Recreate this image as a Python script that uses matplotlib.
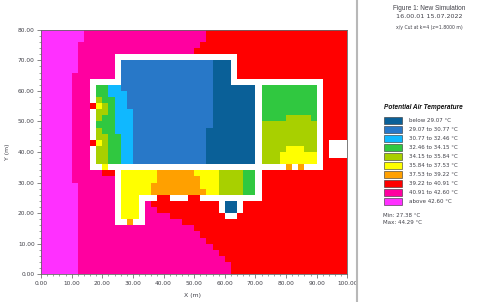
import numpy as np
import matplotlib
matplotlib.use("Agg")
import matplotlib.pyplot as plt
from matplotlib.colors import ListedColormap
from matplotlib.patches import Rectangle

plt.rcParams['font.family'] = ['DejaVu Sans']

# Category codes: run-length rows, top row (y 78-80 m) first, every cell 2 m x 2 m
CODES = "ABCDEFGHIJ."
COLORS = ["#0a6098", "#2878c8", "#10b8ff", "#30c840", "#a8d000",
          "#ffff00", "#ffa000", "#ff0000", "#ff00a0", "#ff30ff", "#ffffff"]
LEGEND_LABELS = ["below 29.07 °C", "29.07 to 30.77 °C", "30.77 to 32.46 °C",
                 "32.46 to 34.15 °C", "34.15 to 35.84 °C", "35.84 to 37.53 °C",
                 "37.53 to 39.22 °C", "39.22 to 40.91 °C", "40.91 to 42.60 °C",
                 "above 42.60 °C"]
ROWS = [
    "J7 I20 H23",
    "J7 I20 H23",
    "J6 I20 H24",
    "J6 I19 H25",
    "J6 I6 .20 H18",
    "J6 I6 .1 B15 A3 .1 H18",
    "J6 I6 .1 B15 A3 .1 H18",
    "J5 I7 .1 B15 A3 .1 H18",
    "J5 I3 .5 B15 A3 .15 H4",
    "J5 I3 .1 D2 C2 B15 A7 .1 D9 .1 H4",
    "J5 I3 .1 D2 C3 B14 A7 .1 D9 .1 H4",
    "J5 I3 .1 E1 D2 C2 B14 A7 .1 D9 .1 H4",
    "J5 I3 H1 F1 E1 D1 C2 B14 A7 .1 D9 .1 H4",
    "J5 I3 .1 E2 D1 C3 B13 A7 .1 D9 .1 H4",
    "J5 I3 .1 E1 D2 C3 B13 A7 .1 D4 E4 D1 .1 H4",
    "J5 I3 .1 D3 C3 B13 A7 .1 E9 .1 H4",
    "J5 I3 .1 E1 D2 C3 B12 A8 .1 E9 .1 H4",
    "J5 I3 .1 E2 D2 C2 B12 A8 .1 E9 .1 H4",
    "J5 I3 H1 F1 E1 D2 C2 B12 A8 .1 E9 .1 H1 .3",
    "J5 I3 .1 E2 D2 C2 B12 A8 .1 E4 F3 E2 .1 H1 .3",
    "J5 I3 .1 E2 D2 C2 B12 A8 .1 E3 F6 .1 H1 .3",
    "J5 I3 .1 E2 D2 C2 B12 A8 .1 E3 F6 .1 H4",
    "J5 I3 .2 F1 .29 G1 .1 G1 .3 H4",
    "J5 I5 H2 .1 F6 G6 F4 E4 D2 .1 H14",
    "J5 I7 .1 F6 G7 F3 E4 D2 .1 H14",
    "J6 I6 .1 F5 G8 F3 E4 D2 .1 H14",
    "J6 I6 .1 F5 G9 F2 E4 D2 .1 H14",
    "J6 I6 .1 F3 .3 H2 .3 H2 .10 H14",
    "J6 I6 .1 F3 .1 I1 H11 .1 A2 .1 H17",
    "J6 I6 .1 F3 .1 I2 H10 .1 A2 .1 H17",
    "J6 I6 .1 F3 .1 I4 H9 .2 H18",
    "J6 I6 .2 G1 .2 I6 H27",
    "J6 I19 H25",
    "J6 I20 H24",
    "J6 I21 H23",
    "J6 I22 H22",
    "J6 I23 H21",
    "J6 I24 H20",
    "J6 I25 H19",
    "J6 I25 H19",
]
X_TICKS = list(range(0, 101, 10))
Y_TICKS = list(range(0, 81, 10))
TITLE_LINES = ["Figure 1: New Simulation", "16.00.01 15.07.2022", "x/y Cut at k=4 (z=1.8000 m)"]
MIN_MAX = ["Min: 27.38 °C", "Max: 44.29 °C"]


def expand(row):
    cells = []
    for token in row.split():
        cells.extend([CODES.index(token[0])] * int(token[1:]))
    return cells


grid = np.array([expand(r) for r in ROWS])[::-1]

TXT = "#404048"
W, H = 480, 302
fig = plt.figure(figsize=(W / 100, H / 100), dpi=100, facecolor="white")
L, R, T, B = 41, 347.3, 29.7, 274.3
ax = fig.add_axes([L / W, 1 - B / H, (R - L) / W, (B - T) / H])
x_edges = np.arange(0, 101, 2)
y_edges = np.arange(0, 81, 2)
ax.pcolormesh(x_edges, y_edges, grid, cmap=ListedColormap(COLORS), vmin=-0.5,
              vmax=len(COLORS) - 0.5, shading="flat")
ax.set_xlim(0, 100)
ax.set_ylim(0, 80)
ax.set_xticks(X_TICKS, [f"{v:.2f}" for v in X_TICKS])
ax.set_yticks(Y_TICKS, [f"{v:.2f}" for v in Y_TICKS])
ax.set_xticks(np.arange(0, 101, 2), minor=True)
ax.set_yticks(np.arange(0, 81, 2), minor=True)
ax.tick_params(which="major", length=3, width=0.5, color="#555555", labelsize=4.2,
               labelcolor=TXT, pad=1.5)
ax.tick_params(which="minor", length=1.5, width=0.4, color="#555555")
for s in ax.spines.values():
    s.set_color("#666666")
    s.set_linewidth(0.6)

ov = fig.add_axes([0, 0, 1, 1], facecolor="none")
ov.set_xlim(0, W)
ov.set_ylim(H, 0)
ov.axis("off")
ov.text(193, 296, "X (m)", fontsize=4.4, color=TXT, ha="center", va="center")
ov.text(7, 152, "Y (m)", fontsize=4.4, color=TXT, ha="center", va="center", rotation=90)
ov.plot([357, 357], [0, H], color="#b8b8b8", lw=1.5, solid_capstyle="butt")
ov.text(429, 8, TITLE_LINES[0], fontsize=4.7, family="Liberation Sans", color=TXT,
        ha="center", va="center")
ov.text(429, 17, TITLE_LINES[1], fontsize=4.55, color=TXT, ha="center", va="center")
ov.text(429, 28, TITLE_LINES[2], fontsize=3.3, color=TXT, ha="center", va="center")
ov.text(384, 107.7, "Potential Air Temperature", fontsize=4.7, family="Liberation Sans",
        color="#101010", fontweight="bold", fontstyle="italic", ha="left", va="center")
for k, lab in enumerate(LEGEND_LABELS):
    yc = 120.7 + 9 * k
    ov.add_patch(Rectangle((383.5, yc - 3.3), 18, 6.6, facecolor=COLORS[k],
                           edgecolor="#303030", linewidth=0.4))
    ov.text(409, yc, lab, fontsize=4.0, color=TXT, ha="left", va="center")
ov.text(383, 215.7, MIN_MAX[0], fontsize=4.0, color=TXT, ha="left", va="center")
ov.text(383, 222.7, MIN_MAX[1], fontsize=4.0, color=TXT, ha="left", va="center")

fig.savefig("out.png", dpi=100)
